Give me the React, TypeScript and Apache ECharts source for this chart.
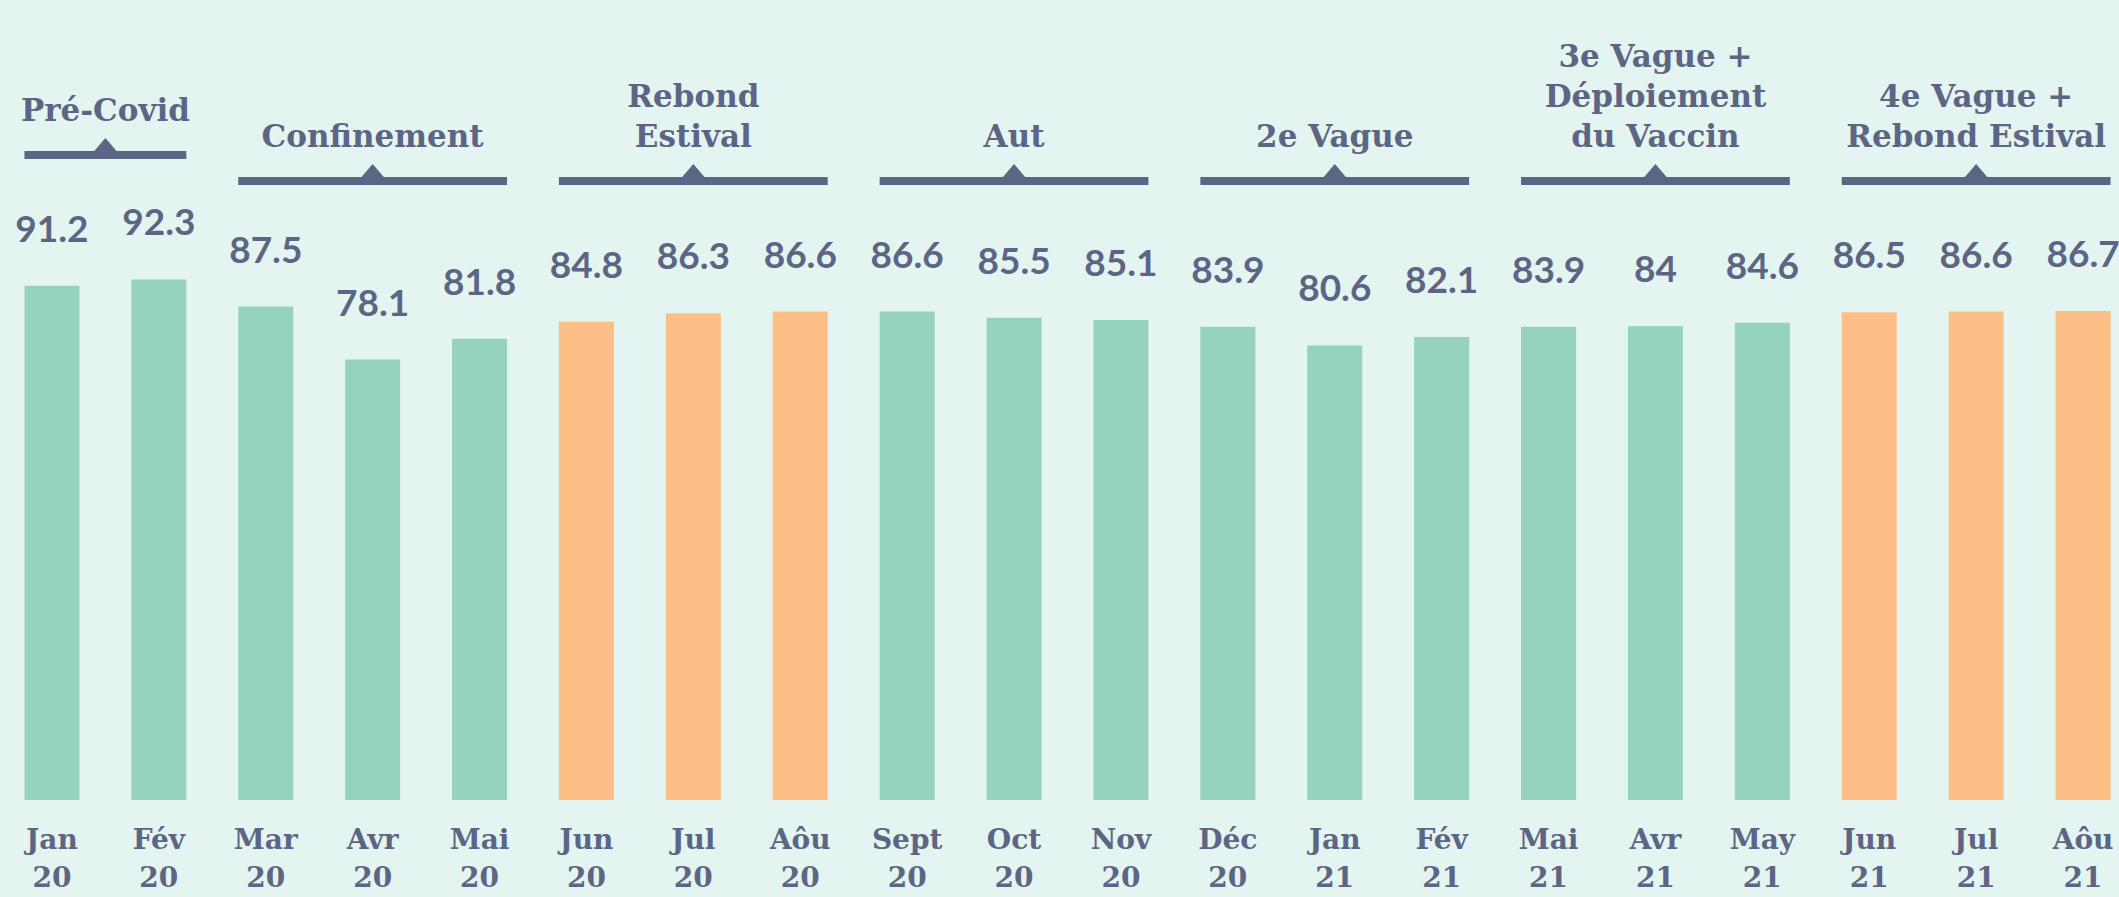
import React, { useEffect, useRef } from "react";
import * as echarts from "echarts";

// ---- data ----
const months = ["Jan", "Fév", "Mar", "Avr", "Mai", "Jun", "Jul", "Aôu", "Sept", "Oct", "Nov", "Déc", "Jan", "Fév", "Mai", "Avr", "May", "Jun", "Jul", "Aôu"];
const years = ["20", "20", "20", "20", "20", "20", "20", "20", "20", "20", "20", "20", "21", "21", "21", "21", "21", "21", "21", "21"];
const values = [91.2, 92.3, 87.5, 78.1, 81.8, 84.8, 86.3, 86.6, 86.6, 85.5, 85.1, 83.9, 80.6, 82.1, 83.9, 84, 84.6, 86.5, 86.6, 86.7];
const summerIdx = [5, 6, 7, 17, 18, 19];

const groupLabels = ["Pré-Covid", "Confinement", "Rebond\nEstival", "Aut", "2e Vague", "3e Vague +\nDéploiement\ndu Vaccin", "4e Vague +\nRebond Estival"];
const groupStart = [0, 2, 5, 8, 11, 14, 17];
const groupEnd = [1, 4, 7, 10, 13, 16, 19];

// ---- style ----
const BG = "#e4f4f1";
const GREEN = "#95d3be";
const ORANGE = "#fdbf85";
const INK = "#5c6684";
const BAR_W = 55;

export default function App() {
  const ref = useRef<HTMLDivElement>(null);

  useEffect(() => {
    if (!ref.current) return;
    const chart = echarts.init(ref.current, null, { renderer: "svg" });
    const categories = months.map((m, i) => m + "\n" + years[i]);

    chart.setOption({
      animation: false,
      backgroundColor: BG,
      grid: { left: -1.5, right: -17.5, top: 236, bottom: 97, outerBoundsMode: "none", containLabel: false },
      xAxis: {
        type: "category",
        data: categories,
        axisLine: { show: false },
        axisTick: { show: false },
        axisLabel: {
          interval: 0,
          margin: 20,
          color: INK,
          fontFamily: "DejaVu Serif",
          fontWeight: "bold",
          fontSize: 28,
          lineHeight: 38,
        },
      },
      yAxis: {
        type: "value",
        min: 0,
        max: 100,
        show: false,
        splitLine: { show: false },
      },
      series: [
        {
          type: "bar",
          barWidth: BAR_W,
          data: values.map((v, i) => ({
            value: v,
            itemStyle: { color: summerIdx.includes(i) ? ORANGE : GREEN },
          })),
          label: {
            show: true,
            position: "top",
            distance: 40,
            color: INK,
            fontFamily: "Lato",
            fontWeight: "bold",
            fontSize: 37,
          },
        },
        {
          type: "custom",
          silent: true,
          clip: false,
          z: 10,
          data: groupStart.map((s, i) => [s, groupEnd[i]]),
          renderItem: (params: any, api: any) => {
            const i = params.dataIndex;
            const s = api.coord([api.value(0), 0]);
            const e = api.coord([api.value(1), 0]);
            const x1 = s[0] - BAR_W / 2;
            const x2 = e[0] + BAR_W / 2;
            const cx = (x1 + x2) / 2;
            const ly = i === 0 ? 155 : 181;
            return {
              type: "group",
              children: [
                { type: "rect", shape: { x: x1, y: ly - 4, width: x2 - x1, height: 8 }, style: { fill: INK } },
                {
                  type: "polygon",
                  shape: { points: [[cx - 12, ly - 3], [cx + 12, ly - 3], [cx, ly - 17]] },
                  style: { fill: INK },
                },
                {
                  type: "text",
                  x: cx,
                  y: ly - 25,
                  style: {
                    text: groupLabels[i],
                    fill: INK,
                    font: 'bold 31px "DejaVu Serif"',
                    align: "center",
                    verticalAlign: "bottom",
                    lineHeight: 40,
                  },
                },
              ],
            };
          },
        },
      ],
    });

    return () => chart.dispose();
  }, []);

  return <div ref={ref} style={{ position: "fixed", left: 0, top: 0, width: 2119, height: 897 }} />;
}
